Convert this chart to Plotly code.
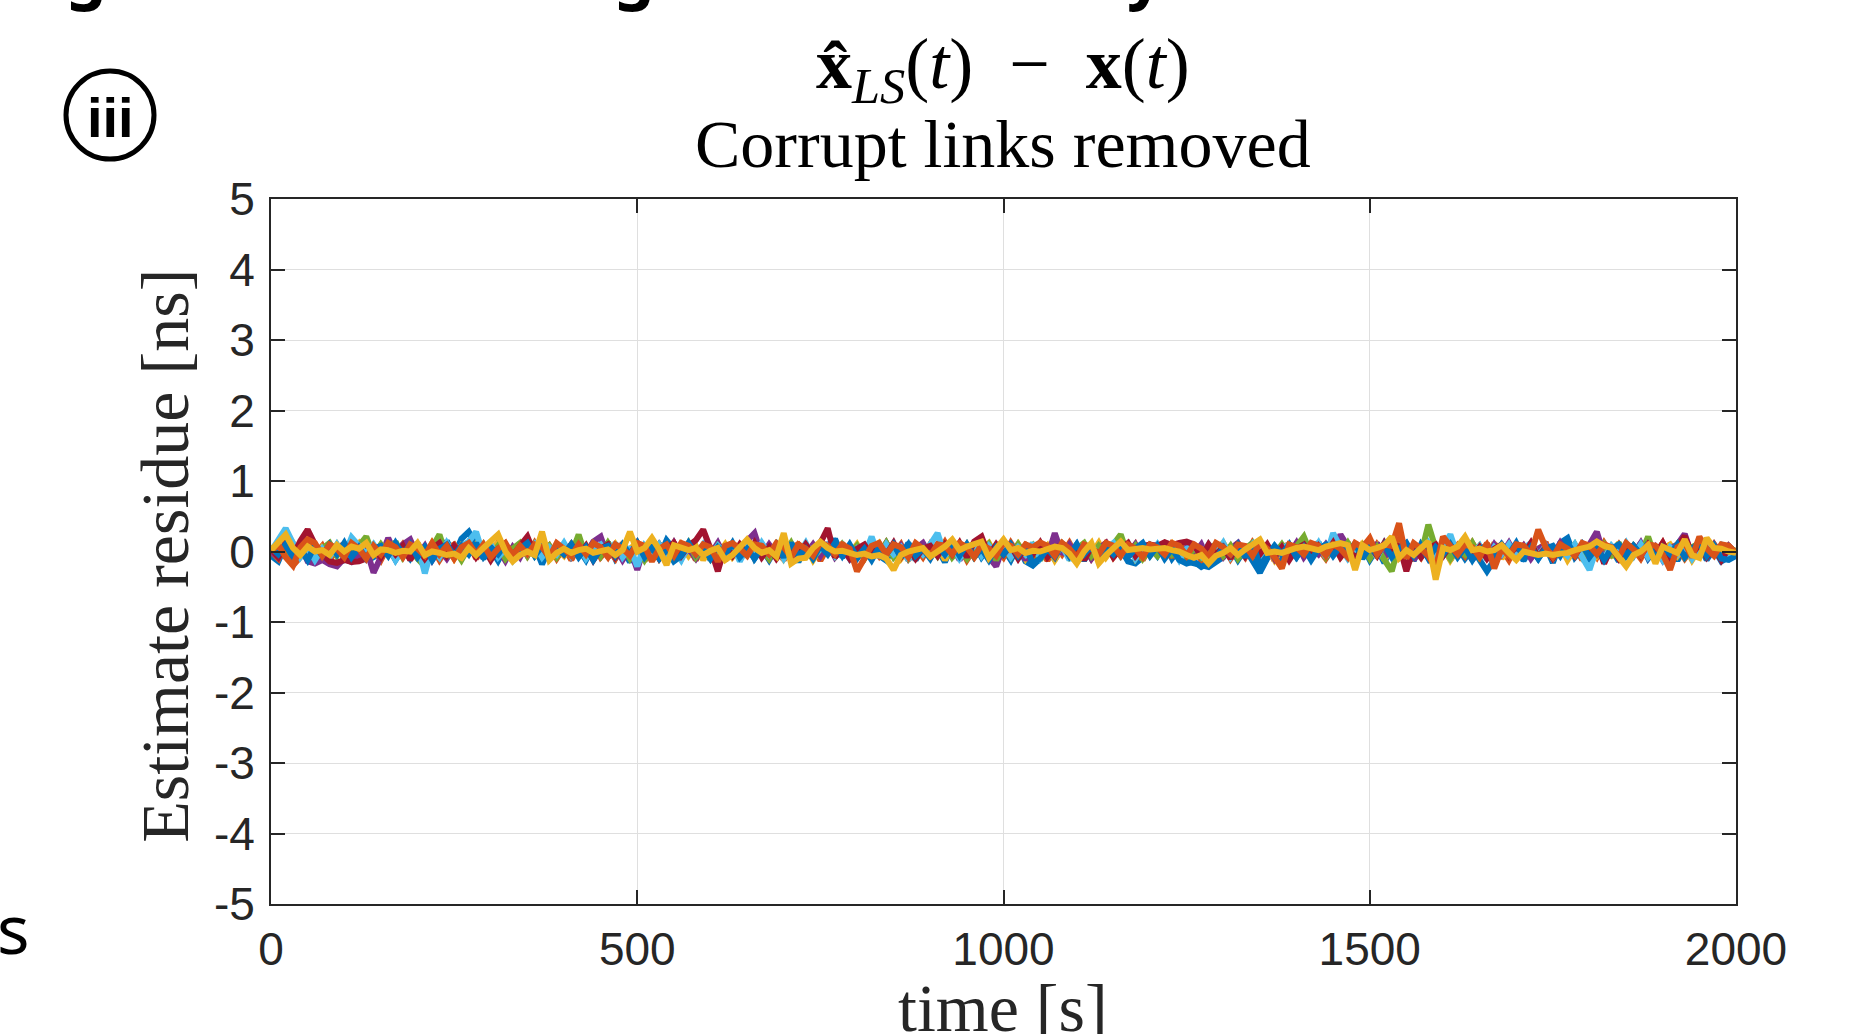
import plotly.graph_objects as go

# ---------------- data (ns), one sample every 10 s from 0 to 2000 s ----------------
TIME_STEP = 10
X_TICKS = [0, 500, 1000, 1500, 2000]
Y_TICKS = [5, 4, 3, 2, 1, 0, -1, -2, -3, -4, -5]
Y_TICK_TEXT = ["5", "4", "3", "2", "1", "0", "-1", "-2", "-3", "-4", "-5"]

s01_blue = [
    -.06, -.14, .1, -.08, .04, -.12, .06, -.04, -.13, .08, -.1, .04, -.06, .12, -.08, -.02, .06, -.12, .04, -.1,
    .06, -.04, .1, -.08, .15, -.06, .18, .28, .1, -.08, .04, -.13, .06, -.1, .12, -.04, .08, -.18, .04, -.06,
    .1, -.08, .04, -.12, .08, -.06, .13, -.1, .04, -.15, .08, -.04, .12, -.08, .16, .04, -.1, .12, -.04, .08,
    -.12, .06, -.08, .1, -.06, .13, -.1, .04, -.12, .06, -.04, .1, -.15, .08, -.06, .12, -.04, .18, -.08, .06,
    -.1, .04, .12, -.06, -.13, .08, -.04, .1, -.12, .06, -.08, .04, -.15, .1, -.06, .04, .12, -.08, .06, -.1,
    .04, -.12, .08, -.14, -.2, -.1, .06, -.12, .08, -.04, .1, -.13, .06, -.1, .12, -.06, .04, -.14, -.17, -.08,
    .08, -.06, .12, -.1, .04, -.14, -.17, -.2, -.22, -.15, -.08, .06, -.12, .04, -.14, -.3, -.1, .06, -.13, .04,
    -.08, .1, -.04, .13, -.1, .06, -.06, .12, -.14, .08, -.12, .04, -.16, .1, -.08, .06, -.13, .1, -.04, -.18,
    .08, -.12, .06, -.1, .04, -.14, -.28, -.12, .06, -.08, .1, -.13, .04, -.1, .08, -.16, .12, .19, -.08, .04,
    -.12, .06, -.1, .04, -.14, .08, -.06, .12, -.1, .04, -.08, .1, -.13, .06, -.04, .1, -.12, .04, -.14, -.08,
    -.05]

s02_orange = [
    0, -.1, .15, -.2, -.08, .12, -.04, .08, -.13, .06, .1, -.06, .13, -.08, .04, -.12, .08, -.04, .1, -.06,
    .12, -.08, .06, -.12, .04, .1, -.06, .13, -.1, .06, -.04, .12, -.08, .04, .1, -.06, .12, -.04, .08, -.1,
    .06, -.12, .08, -.04, .13, -.08, .04, -.1, .12, -.06, .08, -.13, .04, .1, -.06, .12, -.04, .08, -.12, .06,
    -.06, .1, -.13, .06, -.04, .12, -.08, .04, -.1, .08, -.12, .06, .1, -.04, .08, -.13, .06, -.06, .12, -.08,
    .04, -.1, .08, -.06, .12, -.04, .1, -.12, .06, -.08, .1, -.04, .13, -.06, .08, -.12, .04, .1, -.08, .06,
    -.08, .12, -.04, .08, -.1, .06, -.13, .1, -.04, .12, -.06, .08, -.1, .04, .12, -.08, .06, -.04, .1, -.12,
    .06, -.04, .1, -.08, .13, -.06, .04, -.12, .08, -.04, .1, -.1, .06, -.08, .12, -.04, .08, -.13, .06, .1,
    -.06, .12, -.08, .04, -.1, .08, -.04, .13, -.12, .06, -.08, .1, -.04, .12, .18, -.1, .06, -.08, .12, -.06,
    .04, -.1, .08, -.06, .12, -.04, .1, -.08, .04, -.12, .08, -.04, .1, -.06, .13, -.1, .06, -.04, .08, -.12,
    .06, -.08, .12, -.04, .1, -.06, .04, -.1, .08, -.04, .12, -.08, .06, -.1, .04, .08, -.06, .1, -.04, .06,
    0]

s03_yellow = [
    .04, .1, -.06, .12, -.04, .08, -.1, .06, -.02, .1, -.08, .04, .12, -.06, .08, -.04, .1, -.08, .06, -.04,
    .08, -.06, .12, -.04, .06, -.1, .08, -.02, .1, -.06, .04, .12, -.08, .06, -.04, .1, -.06, .08, -.1, .04,
    -.06, .1, -.04, .08, -.12, .06, -.04, .1, -.08, .04, .12, -.06, .08, -.1, .04, -.04, .1, -.06, .08, -.12,
    .06, -.04, .1, -.08, .04, .12, -.06, .08, -.04, .1, -.1, .06, -.04, .08, -.12, .04, .1, -.06, .08, -.04,
    .1, -.08, .04, .12, -.06, .08, -.1, .04, -.04, .1, -.06, .08, -.12, .06, -.04, .1, -.08, .04, .12, -.06,
    .08, -.04, .1, -.1, .06, -.04, .08, -.12, .04, .1, -.06, .08, -.04, .12, -.08, .06, -.04, .1, -.1, .04,
    -.06, .08, -.04, .1, -.12, .06, -.04, .08, -.1, .04, .12, -.06, .08, -.04, .1, -.08, .06, -.12, .04, .1,
    -.04, .08, -.1, .06, -.04, .12, -.08, .04, -.06, .1, -.04, .08, -.12, .06, -.04, .1, -.08, .04, .1, -.06,
    .08, -.12, .04, .1, -.06, .08, -.04, .12, -.1, .06, -.04, .08, -.08, .04, .1, -.06, .08, -.12, .04, -.04,
    .1, -.06, .08, -.04, .12, -.1, .06, -.04, .08, -.08, .04, .1, -.06, .08, -.12, .04, -.04, .1, -.06, .08,
    -.02]

s04_purple = [
    0, -.08, .12, -.06, .1, -.14, -.17, -.12, -.18, -.21, -.1, -.15, -.08, .04, -.3, -.08, .19, -.04, .1, .17,
    -.06, .08, -.12, .04, -.1, .06, -.08, .12, -.04, .08, -.1, .04, -.13, .06, -.08, .12, -.04, .1, -.08, .04,
    .1, -.06, .12, -.04, .14, .21, -.08, .06, -.12, .04, -.26, .08, -.06, .1, -.04, .12, -.08, .04, -.1, .06,
    -.04, .12, -.08, .06, -.1, .15, .26, -.06, .1, -.04, .08, -.12, .06, -.04, .1, -.06, .12, -.08, .04, -.1,
    .06, -.08, .1, -.04, .12, -.06, .08, -.1, .04, .12, -.06, .1, -.04, .08, -.12, .06, -.04, .1, -.08, -.21,
    .08, -.06, .1, -.12, .04, .12, -.08, .26, -.04, .1, -.06, .08, -.1, .04, .12, -.06, .08, -.04, .1, -.08,
    .04, .1, -.06, .12, -.08, .06, -.04, .1, -.12, .06, -.08, .04, .12, -.06, .1, -.04, .08, -.1, .06, -.04,
    .12, -.08, .06, -.04, .1, -.06, .24, .08, -.1, .04, -.06, .12, -.08, .06, -.04, .1, -.12, .06, -.08, .04,
    -.06, .1, -.04, .08, -.12, .06, -.08, .1, -.04, .12, -.06, .08, -.1, .04, .1, -.06, .12, -.04, .08, -.08,
    .1, .28, -.06, .04, -.1, .08, -.04, .12, -.08, .06, -.12, .04, .1, .25, -.06, .08, -.04, .1, -.06, .08,
    -.02]

s05_green = [
    0, .08, -.06, .1, -.04, .08, -.1, .04, .12, -.06, .1, -.04, .08, .21, -.06, .1, -.04, .14, -.08, .06,
    -.1, -.21, .06, .24, -.08, .04, -.12, .06, -.04, .1, -.06, .08, -.1, .04, .12, -.06, .1, -.04, .08, -.08,
    .06, -.04, .24, -.08, .1, -.06, .12, -.04, .08, -.1, .06, -.12, .04, .1, -.06, .08, -.04, .12, -.08, .06,
    -.1, .08, -.04, .1, -.06, .12, -.08, .04, -.1, .06, -.04, .12, -.08, .06, -.1, .04, .08, -.06, .1, -.04,
    .08, -.1, .06, -.04, .12, -.08, .04, -.1, .06, -.04, .1, -.06, .12, -.08, .04, -.1, .06, -.04, .1, -.12,
    .06, -.08, .1, -.04, .08, -.12, .06, -.04, .1, -.08, .04, .12, -.06, .08, -.04, .1, .24, -.06, .08, -.1,
    .04, -.06, .1, -.04, .08, -.12, .06, -.08, .04, .1, -.06, .08, -.1, .04, .12, -.06, .08, -.04, .1, -.06,
    .08, .21, -.04, .1, -.08, .06, -.04, .12, -.06, .08, -.1, .06, -.12, -.28, .1, -.06, .08, -.04, .38, .04,
    .08, -.1, .06, -.04, .12, -.08, .04, -.1, .06, -.04, .1, -.06, .12, -.08, .04, -.1, .06, -.04, .1, -.08,
    .06, -.04, .1, -.08, .12, -.06, .08, -.04, .21, -.1, .06, -.04, .1, -.08, .06, .12, -.04, .08, -.1, .06,
    0]

s06_lightblue = [
    0, .15, .33, .12, -.08, .06, -.12, .04, -.08, .1, -.06, .2, .08, -.04, .1, -.06, .08, -.12, .04, -.06,
    .1, -.31, .06, -.08, .12, -.04, .08, .14, .28, -.06, .1, -.08, .04, -.12, .06, -.04, .1, -.08, .06, -.04,
    .12, -.06, .08, -.1, .04, .1, -.06, .12, -.08, .06, -.21, .08, -.04, .1, -.06, .04, -.12, .08, -.04, .1,
    -.06, .08, -.04, .1, -.14, .06, -.08, .12, -.04, .08, -.1, .06, -.04, .12, -.08, .04, .1, -.06, .08, -.1,
    .04, -.06, .21, -.08, .1, -.04, .06, -.12, .08, -.04, .1, .26, -.06, .08, -.1, .04, .12, -.06, .08, -.04,
    .1, -.08, .06, -.04, .12, -.1, .04, -.06, .08, -.12, .06, -.04, .1, -.08, .04, .12, -.06, .08, -.1, .06,
    -.04, .1, -.08, .06, -.12, .04, .08, -.06, .1, -.04, .12, -.08, .06, -.04, .1, -.12, .06, -.08, .04, .1,
    -.06, .08, -.04, .12, -.08, .26, .06, -.1, .04, -.06, .1, -.08, .12, -.04, .06, -.1, .08, -.04, .12, -.06,
    .08, .24, -.06, .1, -.04, .08, -.12, .06, -.04, .1, -.08, .04, .12, -.06, .08, -.1, .04, -.06, .1, -.08,
    -.26, .06, -.1, .08, -.04, .12, -.06, .1, -.08, .04, -.12, .06, -.04, .08, -.1, .06, .12, -.04, .08, -.1,
    -.03]

s07_darkred = [
    .04, -.08, .1, -.06, .15, .31, .1, -.04, -.14, -.16, -.12, -.15, -.14, -.1, .06, -.08, .1, -.04, .08, -.12,
    .06, -.1, .04, .12, -.06, .08, -.04, .1, -.08, .06, -.12, .04, .1, -.06, .08, .21, -.04, .1, -.08, .06,
    -.04, .1, -.06, .08, -.12, .04, .1, -.08, .06, -.04, .12, -.06, .08, -.1, .04, .12, -.06, .08, .16, .31,
    .04, -.28, .08, -.06, .1, -.04, .12, -.08, .06, -.1, .04, .08, -.06, .1, -.04, .12, .33, -.08, .06, -.1,
    .04, .1, -.06, .08, -.04, .12, -.08, .06, -.1, .04, .08, -.06, .1, -.04, .12, -.08, .14, .21, -.06, .1,
    -.04, .08, -.1, .06, -.04, .12, -.08, .04, .1, -.06, .08, -.12, .06, -.04, .1, -.08, .04, .12, -.06, .08,
    .1, .08, .13, .09, .12, .14, .1, -.08, .1, -.04, .06, -.1, .12, -.06, .08, -.04, .1, -.08, .06, -.12,
    .04, .1, -.06, .08, -.04, .12, -.08, .06, -.1, .04, .08, -.06, .12, -.04, .1, -.28, .06, -.08, .04, .1,
    -.06, .08, -.04, .12, -.08, .06, -.1, .04, .1, -.06, .08, -.04, .12, -.08, .06, -.1, .04, .08, -.06, .1,
    -.04, .12, -.17, .06, -.1, .04, .08, -.06, .1, -.04, .12, -.08, .06, .22, -.04, .1, -.08, .06, -.12, .04,
    -.02]

s08_blue = [
    .06, -.04, .1, -.08, .04, -.12, .08, -.06, .1, -.04, .12, -.08, .06, -.1, .04, .08, -.06, .12, -.04, .1,
    -.08, .06, -.12, .04, .1, -.06, .08, -.04, .12, -.1, .06, -.04, .1, -.08, .04, .12, -.06, .08, -.1, .06,
    -.04, .1, -.08, .06, -.12, .04, .08, -.06, .1, -.04, .12, -.08, .06, -.1, .04, -.14, -.06, .12, -.04, .08,
    -.1, .06, -.04, .12, -.08, .04, -.1, .06, -.04, .1, -.08, .12, -.06, .04, -.1, .08, -.04, .12, -.06, .1,
    -.08, .04, -.12, .06, -.04, .1, -.08, .12, -.06, .04, -.1, .08, -.04, .12, -.06, .1, -.08, .04, -.12, .06,
    -.04, .1, -.06, .08, -.17, -.1, .04, -.08, .12, -.06, .1, -.04, .08, -.12, .06, -.04, .1, -.08, .04, .12,
    -.06, .08, -.1, .04, -.12, -.17, -.14, -.22, -.16, -.1, .06, -.04, .1, -.08, .12, -.2, -.06, .08, -.04, .1,
    -.08, .06, -.12, .04, .1, -.06, .08, -.04, .12, -.1, .06, -.04, .1, -.08, .04, .12, -.06, .08, -.1, .06,
    -.04, .1, -.08, .06, -.12, .04, .08, -.06, .1, -.04, .12, -.08, .06, -.1, .04, .08, -.06, .12, -.04, .1,
    -.08, .06, -.12, .04, .1, -.06, .08, -.04, .12, -.1, .06, -.04, .1, -.08, .04, .12, -.06, .08, -.1, -.12,
    -.06]

s09_orange = [
    0, .1, -.08, -.2, .06, .17, .12, -.06, .1, .04, -.08, .12, .04, -.1, .08, -.04, .12, .06, -.08, .1,
    .04, -.06, .12, -.04, .08, -.1, .06, .12, -.04, .1, -.08, .04, .12, -.06, .08, -.04, .1, .06, -.08, .12,
    .04, -.06, .1, -.04, .12, .06, -.08, .1, .04, -.06, .12, .08, -.14, .04, .1, -.06, .12, .08, -.04, .1,
    .06, -.14, .08, .12, .04, -.06, .1, .08, -.04, .12, .06, -.08, .1, .04, -.06, .12, .08, -.04, .1, .04,
    -.28, -.1, .08, .12, -.04, .1, .06, -.08, .12, .04, -.06, .1, .08, -.04, .12, .06, -.08, .1, .04, -.06,
    .12, .08, -.04, .1, .06, .13, .08, -.06, .12, .04, -.08, .1, .06, -.04, .12, .08, -.06, .1, .04, -.08,
    .1, .06, -.04, .12, .08, -.06, .1, .04, -.08, .12, .06, -.04, .1, .08, -.06, .12, .04, -.08, -.24, .1,
    .06, -.04, .12, .08, -.06, .1, .04, -.08, .12, .06, .19, -.04, .1, .08, .4, -.1, .12, .04, -.06, -.24,
    .21, .08, -.04, .1, .06, -.08, .12, -.24, .04, -.06, .1, .08, -.04, .31, .06, -.08, .1, .04, -.06, .12,
    .08, -.04, .1, .06, -.08, .12, .04, -.06, .1, .08, -.04, -.26, .06, .12, -.08, .21, .04, -.06, .1, .08,
    -.02]

s10_yellow = [
    .02, .12, .24, .05, -.05, .07, 0, .02, -.05, .09, 0, .07, .04, .12, -.05, .03, .02, -.02, .01, 0,
    .12, -.05, 0, -.02, -.05, -.03, -.09, .05, -.05, .05, .15, .24, 0, -.14, -.05, 0, -.05, .28, -.12, -.02,
    .04, -.02, .02, .04, -.02, 0, .03, -.05, .02, .28, 0, .05, .19, .03, -.19, .09, .05, .02, .05, -.05,
    .01, .05, -.12, -.05, .06, .17, .05, -.02, .02, -.07, .26, -.17, -.1, -.09, .05, .14, .05, 0, .01, -.02,
    -.05, -.03, -.07, -.05, -.1, -.26, -.05, 0, .02, .05, -.07, 0, .07, .17, .02, .07, .1, .14, -.09, .05,
    .17, .02, .05, -.02, .01, 0, .03, .07, .05, -.03, -.17, 0, .12, -.17, -.05, .05, .14, .02, .04, .05,
    .03, .03, .05, .02, 0, -.05, -.09, -.05, -.17, -.06, -.02, .05, -.05, .03, .09, .17, -.02, 0, -.02, .02,
    .05, .07, .04, .02, .07, .1, .12, .09, -.26, .09, .02, .05, .09, .21, -.09, .02, -.05, .05, .14, -.4,
    .05, .02, .07, .21, .02, .04, 0, .02, .09, -.02, -.12, 0, -.02, -.05, -.03, -.05, -.03, -.02, .02, .05,
    .07, .14, .08, .05, -.09, -.21, -.05, 0, .09, -.17, .07, .02, -.02, .17, -.05, -.09, .19, .05, .04, 0,
    -.02]

SERIES = [s01_blue, s02_orange, s03_yellow, s04_purple, s05_green,
          s06_lightblue, s07_darkred, s08_blue, s09_orange, s10_yellow]
COLORS = ["#0072BD", "#D95319", "#EDB120", "#7E2F8E", "#77AC30",
          "#4DBEEE", "#A2142F", "#0072BD", "#D95319", "#EDB120"]

# ---------------- layout geometry (pixels) ----------------
W, H = 1854, 1034
L, R, T, B = 271, 1736, 199, 904.5
PW, PH = R - L, B - T


def px(xp):
    return (xp - L) / PW


def py(yp):
    return (B - yp) / PH


fig = go.Figure()
for vals, col in zip(SERIES, COLORS):
    fig.add_trace(go.Scatter(
        x=[TIME_STEP * i for i in range(len(vals))], y=vals, mode="lines",
        line=dict(color=col, width=6), showlegend=False, hoverinfo="skip"))

AX = "#262626"
GRID = "#dfdfdf"
tick_font = dict(family="Liberation Sans, Arial, sans-serif", size=46, color=AX)
serif = "Liberation Serif, Times New Roman, serif"

fig.update_layout(
    width=W, height=H,
    margin=dict(l=L, r=W - R, t=T, b=H - B, pad=0),
    paper_bgcolor="white", plot_bgcolor="white",
    xaxis=dict(range=[0, 2000], tickvals=X_TICKS, ticktext=[str(v) for v in X_TICKS],
               showgrid=True, gridcolor=GRID, gridwidth=1, zeroline=False,
               showline=True, linecolor=AX, linewidth=2, mirror="ticks",
               ticks="inside", ticklen=14, tickcolor=AX, tickwidth=1.5,
               tickfont=tick_font, ticklabelstandoff=4),
    yaxis=dict(range=[-5, 5], tickvals=Y_TICKS, ticktext=Y_TICK_TEXT,
               showgrid=True, gridcolor=GRID, gridwidth=1, zeroline=False,
               showline=True, linecolor=AX, linewidth=2, mirror="ticks",
               ticks="inside", ticklen=14, tickcolor=AX, tickwidth=1.5,
               tickfont=tick_font, ticklabelstandoff=5),
)

sans = "Noto Sans, Open Sans, sans-serif"
ann = [
    # title, line 1 (formula)
    dict(text="<b>x\u0302</b><i><sub>LS</sub></i>(<i>t</i>)\u2002\u2212\u2002<b>x</b>(<i>t</i>)",
         x=px(1003), y=py(69), font=dict(family=serif, size=72, color="black")),
    # title, line 2
    dict(text="Corrupt links removed", x=px(1003), y=py(144),
         font=dict(family=serif, size=68, color="black")),
    # y-axis title
    dict(text="Estimate residue [ns]", x=px(165), y=py(556), textangle=-90,
         font=dict(family=serif, size=68, color=AX)),
    # x-axis title
    dict(text="time [s]", x=px(1003), y=py(1009),
         font=dict(family=serif, size=68, color=AX)),
    # panel label
    dict(text="<b>iii</b>", x=px(110), y=py(117),
         font=dict(family="Liberation Sans, Arial, sans-serif", size=56, color="black")),
    # stray glyphs at the left edge / top edge of the cropped figure
    dict(text="s", x=px(13), y=py(928), font=dict(family=sans, size=68, color="black")),
    dict(text="<b>g</b>", x=px(86), y=py(-29), font=dict(family=sans, size=64, color="black")),
    dict(text="<b>g</b>", x=px(634), y=py(-29), font=dict(family=sans, size=64, color="black")),
    dict(text="<b>y</b>", x=px(1145), y=py(-29), font=dict(family=sans, size=64, color="black")),
]
for a in ann:
    a.update(xref="paper", yref="paper", showarrow=False, xanchor="center", yanchor="middle")
fig.update_layout(annotations=ann)

fig.add_shape(type="circle", xref="paper", yref="paper",
              xsizemode="pixel", ysizemode="pixel",
              xanchor=px(110), yanchor=py(115),
              x0=-44, x1=44, y0=-44, y1=44,
              line=dict(color="black", width=5))

fig.write_html("out.html", config={"displayModeBar": False},
               post_script="document.body.style.margin='0';document.body.style.overflow='hidden';")
